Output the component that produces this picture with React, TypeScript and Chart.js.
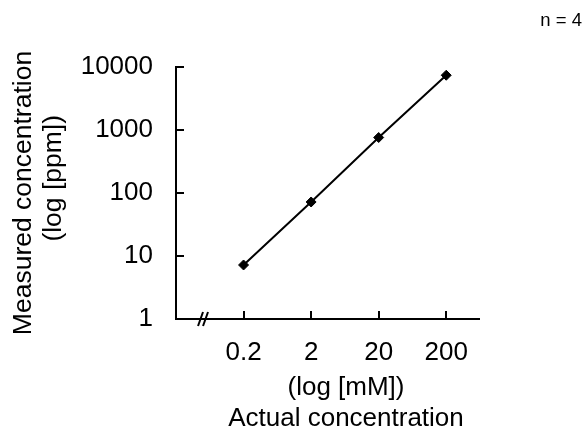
import React, { useEffect, useRef } from "react";
import { Chart, registerables } from "chart.js";

Chart.register(...registerables);

const xLabels = ["0.2", "2", "20", "200"];
const measured = [7.2, 72, 760, 7400];
const yTicks = [1, 10, 100, 1000, 10000];
const yTitle = ["Measured concentration", "    (log [ppm])"];
const xTitle = ["(log [mM])", "Actual concentration"];
const noteText = "n = 4";

const FONT = "'Liberation Sans', Arial, sans-serif";
const INK = "#000000";

const decorPlugin = {
  id: "decor",
  afterDraw(chart: any) {
    const ctx = chart.ctx;
    const xs = chart.scales.x;
    const ys = chart.scales.y;
    const area = chart.chartArea;
    ctx.save();
    ctx.strokeStyle = INK;
    ctx.lineWidth = 2;
    // inward ticks
    xs.ticks.forEach((t: any) => {
      const px = Math.round(xs.getPixelForValue(t.value));
      ctx.beginPath();
      ctx.moveTo(px, area.bottom);
      ctx.lineTo(px, area.bottom - 8);
      ctx.stroke();
    });
    ys.ticks.forEach((t: any) => {
      const py = Math.round(ys.getPixelForValue(t.value));
      ctx.beginPath();
      ctx.moveTo(area.left, py);
      ctx.lineTo(area.left + 8, py);
      ctx.stroke();
    });
    // axis break mark
    const bx = xs.getPixelForValue(-0.6);
    const by = area.bottom;
    ctx.lineWidth = 2;
    [-2.5, 2.5].forEach((d) => {
      ctx.beginPath();
      ctx.moveTo(bx + d - 2.5, by + 7);
      ctx.lineTo(bx + d + 2.5, by - 7);
      ctx.stroke();
    });
    // note
    ctx.fillStyle = INK;
    ctx.font = `18.5px ${FONT}`;
    ctx.textAlign = "right";
    ctx.textBaseline = "middle";
    ctx.fillText(noteText, 582, 21);
    ctx.restore();
  },
};

export default function App() {
  const ref = useRef<HTMLCanvasElement | null>(null);
  useEffect(() => {
    if (!ref.current) return;
    const chart = new Chart(ref.current, {
      type: "line",
      data: {
        datasets: [
          {
            data: measured.map((v, i) => ({ x: i, y: v })),
            borderColor: INK,
            backgroundColor: INK,
            borderWidth: 2,
            pointStyle: "rectRot",
            pointRadius: 5,
            pointBorderWidth: 1,
            pointBackgroundColor: INK,
            pointBorderColor: INK,
            tension: 0,
          },
        ],
      },
      options: {
        animation: false,
        responsive: false,
        devicePixelRatio: 1,
        layout: { padding: { top: 67, right: 106, left: 0, bottom: 0 } },
        plugins: { legend: { display: false }, tooltip: { enabled: false } },
        scales: {
          x: {
            type: "linear",
            min: -1,
            max: 3.5,
            afterBuildTicks: (s: any) => {
              s.ticks = xLabels.map((_, i) => ({ value: i }));
            },
            afterFit: (s: any) => {
              s.height = 111;
              if (!s._titleShifted) {
                const orig = s.drawTitle;
                s.drawTitle = function (...args: any[]) {
                  const c = this.ctx;
                  c.save();
                  c.translate(18, 0);
                  orig.apply(this, args);
                  c.restore();
                };
                s._titleShifted = true;
              }
            },
            grid: { display: true, drawOnChartArea: false, drawTicks: false, lineWidth: 0 },
            border: { display: true, color: INK, width: 2 },
            ticks: {
              padding: 18,
              color: INK,
              font: { family: FONT, size: 26 },
              callback: (v: any) => xLabels[v] ?? "",
              maxRotation: 0,
              autoSkip: false,
            },
            title: {
              display: true,
              text: xTitle,
              color: INK,
              font: { family: FONT, size: 26, lineHeight: 1.18 },
              padding: { top: 0, bottom: -4 },
            },
          },
          y: {
            type: "logarithmic",
            min: 1,
            max: 10000,
            afterBuildTicks: (s: any) => {
              s.ticks = yTicks.map((v) => ({ value: v }));
            },
            afterFit: (s: any) => {
              s.width = 176;
            },
            grid: { display: true, drawOnChartArea: false, drawTicks: false, lineWidth: 0 },
            border: { display: true, color: INK, width: 2 },
            ticks: {
              padding: 23,
              color: INK,
              font: { family: FONT, size: 26 },
              callback: (v: any) => String(v),
              autoSkip: false,
            },
            title: {
              display: true,
              text: yTitle,
              color: INK,
              font: { family: FONT, size: 26.5, lineHeight: 1.15 },
              padding: { top: 8, bottom: 0 },
            },
          },
        },
      },
      plugins: [decorPlugin],
    });
    return () => chart.destroy();
  }, []);
  return (
    <div style={{ position: "fixed", left: 0, top: 0, width: 586, height: 430, background: "#fff" }}>
      <canvas ref={ref} width={586} height={430} />
    </div>
  );
}
